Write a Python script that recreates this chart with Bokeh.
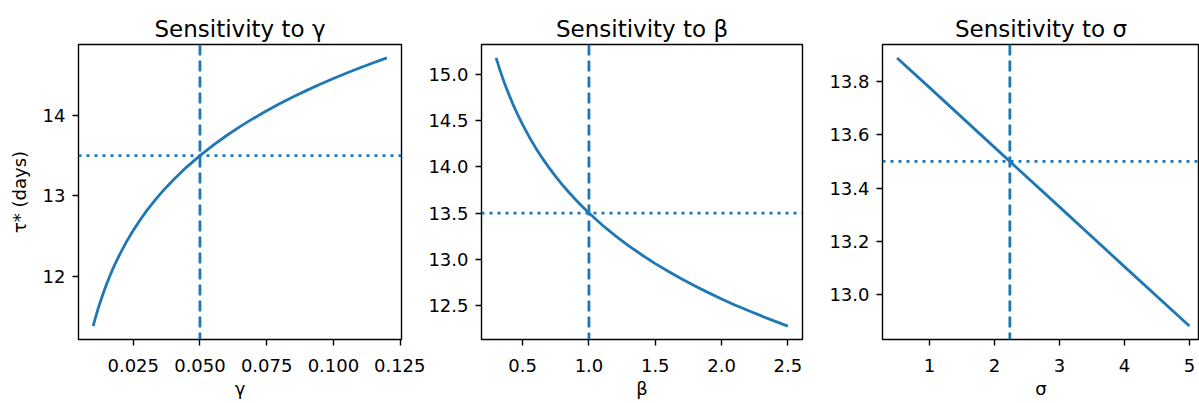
from bokeh.plotting import figure
from bokeh.models import Span, FixedTicker, PrintfTickFormatter
from bokeh.layouts import row
from bokeh.embed import file_html
from bokeh.resources import INLINE

# ---------------- data ----------------
gamma = [0.010, 0.0105, 0.011, 0.0115, 0.012, 0.0125, 0.0135, 0.015, 0.0165, 0.0175,
         0.0185, 0.020, 0.0225, 0.025, 0.0275, 0.030, 0.0325, 0.035, 0.0375, 0.040,
         0.045, 0.050, 0.055, 0.060, 0.065, 0.070, 0.075, 0.080, 0.085, 0.090,
         0.095, 0.100, 0.105, 0.110, 0.115, 0.120]
tau_gamma = [11.384, 11.446, 11.505, 11.562, 11.616, 11.668, 11.767, 11.903, 12.027, 12.103,
             12.176, 12.277, 12.432, 12.571, 12.697, 12.813, 12.919, 13.019, 13.111, 13.198,
             13.357, 13.500, 13.630, 13.749, 13.859, 13.961, 14.056, 14.145, 14.229, 14.309,
             14.384, 14.456, 14.524, 14.590, 14.652, 14.712]

beta = [0.30, 0.325, 0.35, 0.375, 0.40, 0.425, 0.45, 0.475, 0.50, 0.55,
        0.60, 0.65, 0.70, 0.75, 0.80, 0.85, 0.90, 0.95, 1.00, 1.10,
        1.20, 1.30, 1.40, 1.50, 1.60, 1.70, 1.80, 1.90, 2.00, 2.10,
        2.20, 2.30, 2.40, 2.50]
tau_beta = [15.178, 15.064, 14.959, 14.861, 14.770, 14.684, 14.604, 14.528, 14.456, 14.323,
            14.202, 14.091, 13.989, 13.894, 13.805, 13.722, 13.644, 13.570, 13.500, 13.371,
            13.253, 13.145, 13.046, 12.953, 12.867, 12.786, 12.710, 12.639, 12.571, 12.506,
            12.445, 12.387, 12.331, 12.277]

sigma = [0.5, 1.0, 2.0, 3.0, 4.0, 5.0]
tau_sigma = [13.890, 13.778, 13.553, 13.329, 13.104, 12.880]

gamma0 = 0.05
beta0 = 1.0
sigma0 = 2.236
tau0 = 13.5

titles = ["Sensitivity to γ", "Sensitivity to β", "Sensitivity to σ"]
x_labels = ["γ", "β", "σ"]
y_label = "τ* (days)"

gamma_ticks = [0.025, 0.050, 0.075, 0.100, 0.125]
gamma_tick_labels = ["0.025", "0.050", "0.075", "0.100", "0.125"]
tau_gamma_ticks = [12, 13, 14]
tau_gamma_tick_labels = ["12", "13", "14"]

beta_ticks = [0.5, 1.0, 1.5, 2.0, 2.5]
beta_tick_labels = ["0.5", "1.0", "1.5", "2.0", "2.5"]
tau_beta_ticks = [12.5, 13.0, 13.5, 14.0, 14.5, 15.0]
tau_beta_tick_labels = ["12.5", "13.0", "13.5", "14.0", "14.5", "15.0"]

sigma_ticks = [1, 2, 3, 4, 5]
sigma_tick_labels = ["1", "2", "3", "4", "5"]
tau_sigma_ticks = [13.0, 13.2, 13.4, 13.6, 13.8]
tau_sigma_tick_labels = ["13.0", "13.2", "13.4", "13.6", "13.8"]

# ---------------- styling ----------------
BLUE = "#1f77b4"
FONT = "DejaVu Sans"
HEIGHT = 403


def pad(vals, frac=0.05, keep=1.0):
    lo, hi = min(vals), max(vals)
    d = (hi - lo) * frac
    a, b = lo - d, hi + d
    return (a, a + (b - a) * keep)


def panel(title, x, y, x0, xlabel, ylabel, xt, xtl, yt, ytl, xfmt, yfmt,
          width, bl, br, xkeep=1.0):
    p = figure(width=width, height=HEIGHT, x_range=pad(x, keep=xkeep), y_range=pad(y),
               output_backend="svg", toolbar_location=None,
               min_border_left=bl, min_border_right=br,
               min_border_top=44, min_border_bottom=64,
               title=title)
    p.line(x, y, line_color=BLUE, line_width=2.8)
    p.add_layout(Span(location=x0, dimension="height", line_color=BLUE,
                      line_width=2.8, line_dash="11 5"))
    p.add_layout(Span(location=tau0, dimension="width", line_color=BLUE,
                      line_width=2.8, line_dash="3 5"))

    p.title.text_font = FONT
    p.title.text_font_size = "23px"
    p.title.text_font_style = "normal"
    p.title.text_color = "black"
    p.title.align = "center"
    p.title.standoff = 6

    p.xgrid.visible = False
    p.ygrid.visible = False
    p.outline_line_color = "black"
    p.outline_line_width = 1.4
    p.outline_line_alpha = 1.0
    p.background_fill_color = "white"
    p.border_fill_color = "white"

    p.xaxis.ticker = FixedTicker(ticks=xt)
    p.yaxis.ticker = FixedTicker(ticks=yt)
    p.xaxis.formatter = PrintfTickFormatter(format=xfmt)
    p.yaxis.formatter = PrintfTickFormatter(format=yfmt)
    p.xaxis.major_label_overrides = dict(zip(xt, xtl))
    p.yaxis.major_label_overrides = dict(zip(yt, ytl))

    for ax in (p.xaxis[0], p.yaxis[0]):
        ax.axis_line_color = None
        ax.major_tick_out = 6
        ax.major_tick_in = 0
        ax.minor_tick_out = 0
        ax.minor_tick_in = 0
        ax.major_tick_line_color = "black"
        ax.major_tick_line_width = 1.4
        ax.major_label_text_font = FONT
        ax.major_label_text_font_size = "18px"
        ax.major_label_text_color = "black"
        ax.major_label_standoff = 7
        ax.axis_label_text_font = FONT
        ax.axis_label_text_font_size = "18px"
        ax.axis_label_text_font_style = "normal"
        ax.axis_label_text_color = "black"
    p.xaxis.major_label_standoff = 13
    p.xaxis.axis_label = xlabel
    p.xaxis.axis_label_standoff = 3
    if ylabel:
        p.yaxis.axis_label = ylabel
        p.yaxis.axis_label_standoff = 10
    return p


p1 = panel(titles[0], gamma, tau_gamma, gamma0, x_labels[0], y_label,
           gamma_ticks, gamma_tick_labels, tau_gamma_ticks, tau_gamma_tick_labels,
           "%.3f", "%.0f", 425, 78, 24)
p2 = panel(titles[1], beta, tau_beta, beta0, x_labels[1], None,
           beta_ticks, beta_tick_labels, tau_beta_ticks, tau_beta_tick_labels,
           "%.1f", "%.1f", 401, 54, 24)
p3 = panel(titles[2], sigma, tau_sigma, sigma0, x_labels[2], None,
           sigma_ticks, sigma_tick_labels, tau_sigma_ticks, tau_sigma_tick_labels,
           "%.0f", "%.1f", 373, 54, 0, xkeep=319 / 323.5)

layout = row(p1, p2, p3)
open("out.html", "w").write(file_html(layout, INLINE))
